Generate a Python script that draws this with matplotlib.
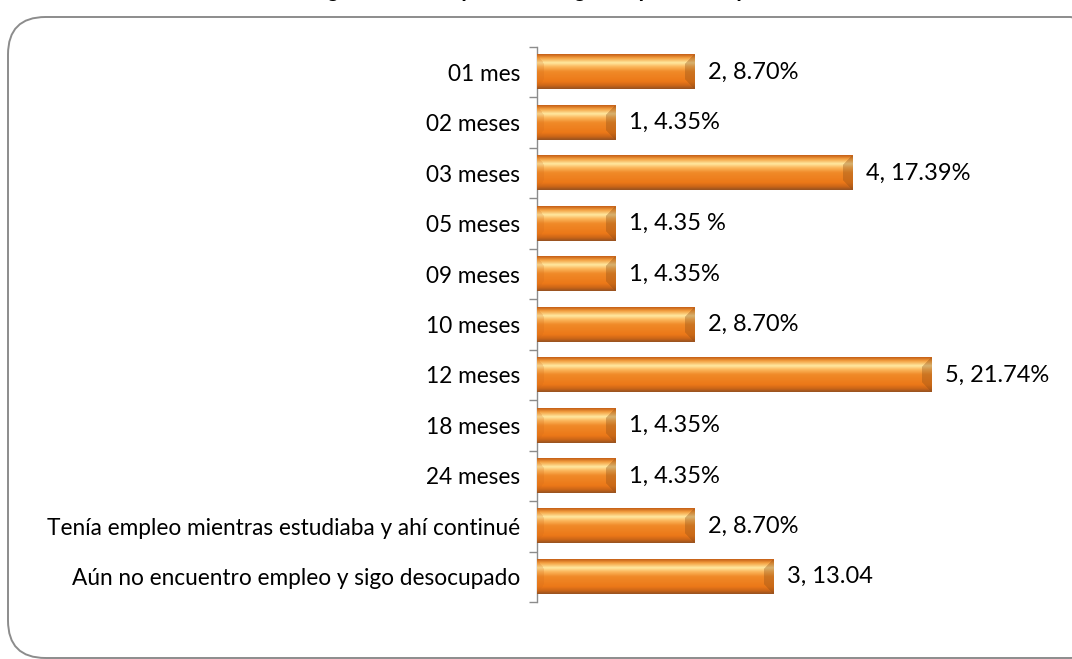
import numpy as np
import matplotlib
matplotlib.use("Agg")
import matplotlib.pyplot as plt
from matplotlib.patches import FancyBboxPatch
from matplotlib.colors import LinearSegmentedColormap

categories = [
    "01 mes", "02 meses", "03 meses", "05 meses", "09 meses", "10 meses",
    "12 meses", "18 meses", "24 meses",
    "Tenía empleo mientras estudiaba y ahí continué",
    "Aún no encuentro empleo y sigo desocupado",
]
counts = [2, 1, 4, 1, 1, 2, 5, 1, 1, 2, 3]
value_labels = [
    "2, 8.70%", "1, 4.35%", "4, 17.39%", "1, 4.35 %", "1, 4.35%", "2, 8.70%",
    "5, 21.74%", "1, 4.35%", "1, 4.35%", "2, 8.70%", "3, 13.04",
]
title = "Figura 11: Tiempo en conseguir el primer empleo"

plt.rcParams["font.family"] = ["Lato", "DejaVu Sans"]

W, H = 1072, 659
fig = plt.figure(figsize=(W / 100, H / 100), dpi=100)

# rounded frame around the chart (right and bottom edges run off the image)
frame = FancyBboxPatch((8 / W, 1 / H), 1100 / W, 641 / H,
                       boxstyle="round,pad=0,rounding_size=0.035",
                       transform=fig.transFigure, fill=False,
                       edgecolor="#8c8c8c", linewidth=1.4,
                       mutation_aspect=W / H)
fig.patches.append(frame)

# title, cut by the top edge as in the source image
fig.text(0.508, 1 + 3 / H, title, ha="center", va="baseline",
         fontsize=16.5, fontweight="bold", fontstyle="italic")

ax = fig.add_axes([537 / W, 57 / H, (1060 - 537) / W, (602 - 47) / H])
y = np.arange(len(categories))
bar_h = 0.68
bars = ax.barh(y, counts, height=bar_h, color="#ef7d1c", zorder=2)

# bevelled orange look
profile = LinearSegmentedColormap.from_list("bevel", [
    (0.00, "#c9651a"), (0.10, "#f4a040"), (0.24, "#ffe8a0"),
    (0.36, "#fbb55a"), (0.50, "#f08a28"), (0.80, "#ec7818"),
    (0.92, "#c86418"), (1.00, "#9c5420"),
])
ppu = 79.0  # pixels per unit on x
for b in bars:
    x0, y0 = b.get_x(), b.get_y()
    w, h = b.get_width(), b.get_height()
    nx, ny = max(int(w * ppu), 2), 34
    xs = np.linspace(0, w * ppu, nx)
    ys = np.linspace(0, 1, ny)
    X, Y = np.meshgrid(xs, ys)
    img = profile(Y)[..., :3]
    bev = 10.0
    dr = w * ppu - X
    edge = np.minimum(np.minimum(Y, 1 - Y) * 34, bev)
    right = dr < edge
    left = X < edge * 0.7
    img[right] = img[right] * 0.65 + np.array([0.55, 0.30, 0.08]) * 0.35
    img[left] = img[left] * 0.8 + np.array([0.80, 0.40, 0.10]) * 0.2
    ax.imshow(img, extent=(x0, x0 + w, y0 + h, y0), aspect="auto",
              interpolation="bilinear", zorder=3)

for yi, c, lab in zip(y, counts, value_labels):
    ax.text(c + 0.17, yi, lab, va="center", ha="left", fontsize=17, zorder=4)

ax.set_xlim(0, (1060 - 537) / ppu)
ax.set_ylim(len(categories) - 0.5, -0.5)

ax.set_yticks(np.arange(-0.5, len(categories), 1.0))
ax.set_yticklabels([])
ax.tick_params(axis="y", which="major", length=6, color="#8c8c8c", width=1)
ax.set_yticks(y, minor=True)
ax.set_yticklabels(categories, minor=True, fontsize=16.3)
ax.tick_params(axis="y", which="minor", length=0, pad=12)
ax.set_xticks([])

for s in ["top", "right", "bottom"]:
    ax.spines[s].set_visible(False)
ax.spines["left"].set_color("#8c8c8c")
ax.spines["left"].set_linewidth(1)
ax.patch.set_alpha(0)

fig.savefig("out.png", dpi=100)
